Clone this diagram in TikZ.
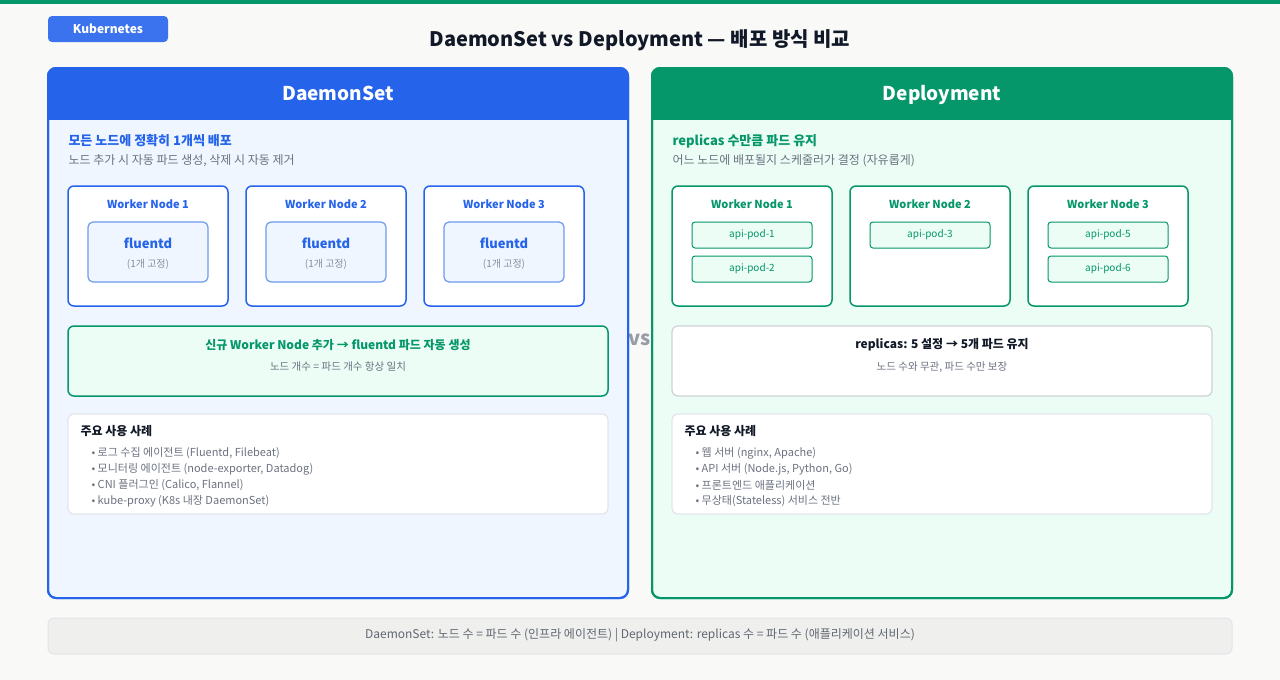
\documentclass[tikz,border=0pt]{standalone}
\usepackage{fontspec}
\setmainfont{Noto Sans CJK KR}
\begin{document}
\definecolor{bg}{HTML}{F9FAF7}
\definecolor{blu}{HTML}{2563EB}
\definecolor{lblu}{HTML}{EFF6FF}
\definecolor{mblu}{HTML}{6B9BF0}
\definecolor{grn}{HTML}{059669}
\definecolor{lgrn}{HTML}{ECFDF5}
\definecolor{gtx}{HTML}{6B7280}
\definecolor{bd}{HTML}{E2E5EA}
\definecolor{dk}{HTML}{111827}
\begin{tikzpicture}[x=1pt,y=-1pt,
 fs/.style={font=\fontsize{#1}{#1}\selectfont},
 bfs/.style={font=\fontsize{#1}{#1}\selectfont\bfseries},
 wn/.style={draw=blu,line width=1.5pt,fill=white,rounded corners=6pt},
 wng/.style={draw=grn,line width=1.5pt,fill=white,rounded corners=6pt},
 pod/.style={draw=grn,line width=1pt,fill=lgrn,rounded corners=3pt},
 card/.style={draw=bd,line width=1.2pt,fill=white,rounded corners=6pt},
 bul/.style={fs=11,text=gtx,anchor=west}]
\useasboundingbox (0,0) rectangle (1280,680);
\fill[bg] (0,0) rectangle (1280,680);
\fill[grn] (0,0) rectangle (1280,4);
\fill[blu!90!white,rounded corners=4pt] (48,16) rectangle (168,42);
\node[bfs=12,text=white] (badge) at (108,29) {Kubernetes};
\node[bfs=20,text=dk] (title) at (640,40) {DaemonSet vs Deployment — 배포 방식 비교};
\node[bfs=20,text=gtx!70] (vs) at (640,340) {vs};
% left panel
\draw[blu,line width=2pt,fill=lblu,rounded corners=8pt] (48,68) rectangle (628,598);
\fill[blu,rounded corners=8pt] (48,68) rectangle (628,100);
\fill[blu] (48,90) rectangle (628,120);
\draw[blu,line width=2pt,rounded corners=8pt] (48,68) rectangle (628,598);
\node[bfs=19,text=white] (lh) at (338,93) {DaemonSet};
\node[bfs=13,text=blu,anchor=west] (ls1) at (65,141) {모든 노드에 정확히 1개씩 배포};
\node[fs=12,text=gtx,anchor=west] (ls2) at (65,161) {노드 추가 시 자동 파드 생성, 삭제 시 자동 제거};
\foreach \x/\i in {68/1,246/2,424/3}{
 \draw[wn] (\x,186) rectangle ++(160,120);
 \node[bfs=11,text=blu] (dn\i) at (\x+80,204) {Worker Node \i};
 \draw[draw=mblu,line width=1.2pt,fill=lblu,rounded corners=5pt] (\x+20,222) rectangle ++(120,60);
 \node[bfs=13,text=blu] (fd\i) at (\x+80,243) {fluentd};
 \node[fs=10,text=gtx!80] (fx\i) at (\x+80,264) {(1개 고정)};
}
\draw[grn,line width=1.5pt,fill=lgrn,rounded corners=6pt] (68,326) rectangle (608,396);
\node[bfs=12,text=grn] (ln1) at (338,345) {신규 Worker Node 추가 → fluentd 파드 자동 생성};
\node[fs=10.5,text=gtx] (ln2) at (338,367) {노드 개수 = 파드 개수 항상 일치};
\draw[card] (68,414) rectangle (608,514);
\node[bfs=12,text=dk,anchor=west] (lu) at (77,431) {주요 사용 사례};
\node[bul] (lb1) at (88,453) {• 로그 수집 에이전트 (Fluentd, Filebeat)};
\node[bul] (lb2) at (88,469) {• 모니터링 에이전트 (node-exporter, Datadog)};
\node[bul] (lb3) at (88,485) {• CNI 플러그인 (Calico, Flannel)};
\node[bul] (lb4) at (88,501) {• kube-proxy (K8s 내장 DaemonSet)};
% right panel
\draw[grn,line width=2pt,fill=lgrn,rounded corners=8pt] (652,68) rectangle (1232,598);
\fill[grn,rounded corners=8pt] (652,68) rectangle (1232,100);
\fill[grn] (652,90) rectangle (1232,120);
\draw[grn,line width=2pt,rounded corners=8pt] (652,68) rectangle (1232,598);
\node[bfs=19,text=white,anchor=base] (rh) at (942,100) {Deployment};
\node[bfs=13,text=grn,anchor=west] (rs1) at (669,141) {replicas 수만큼 파드 유지};
\node[fs=12,text=gtx,anchor=west] (rs2) at (669,161) {어느 노드에 배포될지 스케줄러가 결정 (자유롭게)};
\foreach \x/\i in {672/1,850/2,1028/3}{
 \draw[wng] (\x,186) rectangle ++(160,120);
 \node[bfs=11,text=grn] (rn\i) at (\x+80,204) {Worker Node \i};
}
\draw[pod] (692,222) rectangle (812,248); \node[fs=10,text=grn] (p1) at (752,235) {api-pod-1};
\draw[pod] (692,256) rectangle (812,282); \node[fs=10,text=grn] (p2) at (752,269) {api-pod-2};
\draw[pod] (870,222) rectangle (990,248); \node[fs=10,text=grn] (p3) at (930,235) {api-pod-3};
\draw[pod] (1048,222) rectangle (1168,248); \node[fs=10,text=grn] (p5) at (1108,235) {api-pod-5};
\draw[pod] (1048,256) rectangle (1168,282); \node[fs=10,text=grn] (p6) at (1108,269) {api-pod-6};
\draw[card,draw=bd!80!gray] (672,326) rectangle (1212,396);
\node[bfs=12,text=dk] (rn1x) at (942,345) {replicas: 5 설정 → 5개 파드 유지};
\node[fs=10.5,text=gtx] (rn2x) at (942,367) {노드 수와 무관, 파드 수만 보장};
\draw[card] (672,414) rectangle (1212,514);
\node[bfs=12,text=dk,anchor=west] (ru) at (681,431) {주요 사용 사례};
\node[bul] (rb1) at (692,453) {• 웹 서버 (nginx, Apache)};
\node[bul] (rb2) at (692,469) {• API 서버 (Node.js, Python, Go)};
\node[bul] (rb3) at (692,485) {• 프론트엔드 애플리케이션};
\node[bul] (rb4) at (692,501) {• 무상태(Stateless) 서비스 전반};
% footer
\draw[bd,line width=1pt,fill=gray!8!bg,rounded corners=6pt] (48,618) rectangle (1232,654);
\node[fs=12,text=gtx!90!black] (ft) at (640,635) {DaemonSet: 노드 수 = 파드 수 (인프라 에이전트) | Deployment: replicas 수 = 파드 수 (애플리케이션 서비스)};
\end{tikzpicture}
\end{document}
